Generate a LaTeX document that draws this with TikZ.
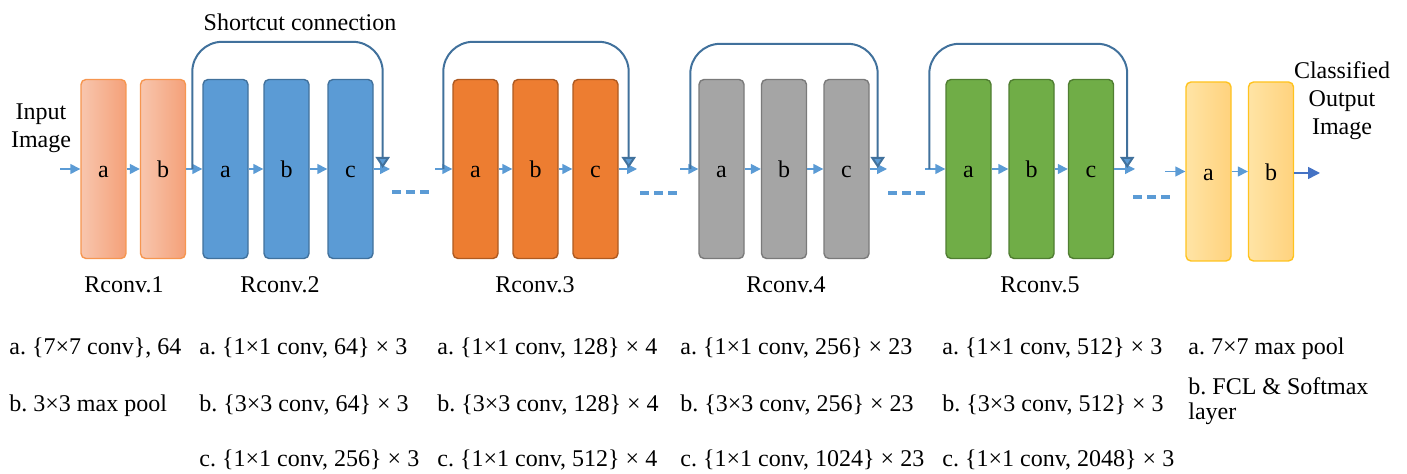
\documentclass[tikz,border=0pt]{standalone}
\usepackage{fontspec}
\setmainfont{Liberation Serif}
\usetikzlibrary{arrows.meta,calc}
\frenchspacing

\definecolor{stemLeft}{RGB}{248,198,174}
\definecolor{stemRight}{RGB}{244,160,120}
\definecolor{stemLine}{RGB}{246,150,80}
\definecolor{blueFill}{RGB}{91,155,213}
\definecolor{blueLine}{RGB}{65,113,156}
\definecolor{orangeFill}{RGB}{237,125,49}
\definecolor{orangeLine}{RGB}{174,90,33}
\definecolor{grayFill}{RGB}{165,165,165}
\definecolor{grayLine}{RGB}{122,122,122}
\definecolor{greenFill}{RGB}{112,173,71}
\definecolor{greenLine}{RGB}{80,126,50}
\definecolor{headLeft}{RGB}{255,228,165}
\definecolor{headRight}{RGB}{255,210,125}
\definecolor{headLine}{RGB}{255,195,30}
\definecolor{flowBlue}{RGB}{91,155,213}
\definecolor{skipBlue}{RGB}{65,113,156}
\definecolor{outBlue}{RGB}{68,114,196}

\begin{document}
\begin{tikzpicture}
[x=0.5pt,y=-0.5pt,
  every node/.style={inner sep=0pt,font=\fontsize{12}{14}\selectfont},%
  blockBase/.style={rectangle,rounded corners=2.5pt,minimum width=22.5pt,
    minimum height=89.5pt,line width=0.7pt,text height=9pt,text depth=0pt},
  stemBlock/.style={blockBase,draw=stemLine,left color=stemLeft,right color=stemRight},
  blueBlock/.style={blockBase,draw=blueLine,fill=blueFill},
  orangeBlock/.style={blockBase,draw=orangeLine,fill=orangeFill},
  grayBlock/.style={blockBase,draw=grayLine,fill=grayFill},
  greenBlock/.style={blockBase,draw=greenLine,fill=greenFill},
  headBlock/.style={blockBase,draw=headLine,left color=headLeft,right color=headRight},
  flowArrow/.style={-{Triangle[length=5pt,width=5pt]},flowBlue,line width=0.7pt},
  outArrow/.style={-{Triangle[length=6pt,width=6pt]},outBlue,line width=0.8pt},
  skipArrow/.style={-{Triangle[length=5.5pt,width=7pt,fill=flowBlue]},skipBlue,
    line width=1pt,rounded corners=15pt},
  gapDash/.style={flowBlue,line width=2pt,dash pattern=on 4.5pt off 2.5pt},
  specText/.style={anchor=base west}]
\useasboundingbox (0,0) rectangle (1407,474);

% conv blocks
\foreach \blockName/\xPos/\yPos/\blockStyle/\blockText in {
  c1a/103.5/169/stemBlock/a, c1b/163/169/stemBlock/b,
  c2a/225.5/169/blueBlock/a, c2b/286.5/169/blueBlock/b, c2c/350.5/169/blueBlock/c,
  c3a/475.5/169/orangeBlock/a, c3b/535.5/169/orangeBlock/b, c3c/595.5/169/orangeBlock/c,
  c4a/721.5/169/grayBlock/a, c4b/784/169/grayBlock/b, c4c/846.5/169/grayBlock/c,
  c5a/968.5/169/greenBlock/a, c5b/1031.5/169/greenBlock/b, c5c/1091/169/greenBlock/c,
  fca/1208.5/171.5/headBlock/a, fcb/1271/171.5/headBlock/b}
{
  \node[\blockStyle] (\blockName) at (\xPos,\yPos) {\blockText};
}

\coordinate (inStart) at (60,169);
\coordinate (c2out) at (390,169);
\coordinate (c3in) at (435,169);
\coordinate (c3out) at (637,169);
\coordinate (c4in) at (680,169);
\coordinate (c4out) at (887,169);
\coordinate (c5in) at (925,169);
\coordinate (c5out) at (1135,169);
\coordinate (fcIn) at (1165,171.5);
\coordinate (outEnd) at (1320,173);

\path
\foreach \startNode/\endNode in {
  inStart/c1a, c1a/c1b, c1b/c2a, c2a/c2b, c2b/c2c, c2c/c2out,
  c3in/c3a, c3a/c3b, c3b/c3c, c3c/c3out,
  c4in/c4a, c4a/c4b, c4b/c4c, c4c/c4out,
  c5in/c5a, c5a/c5b, c5b/c5c, c5c/c5out,
  fcIn/fca, fca/fcb}
{
  (\startNode) edge[flowArrow] (\endNode)
};
\draw[outArrow] (fcb.east |- outEnd) -- (outEnd);

% shortcut connections
\foreach \grp/\leftOff/\rightOff/\topOff in {2/-10/9/-37, 3/-9/10/-37, 4/-8/8/-35, 5/-16/13/-35}
{
  \draw[skipArrow] ($(c\grp a.west)+(\leftOff,0)$) |- ($(c\grp b.north)+(0,\topOff)$)
    -| ($(c\grp c.east)+(\rightOff,-1)$);
}

% dashes between stages
\foreach \dashX/\dashY in {392/192, 640/193, 888/193, 1133/197}
{
  \draw[gapDash] (\dashX,\dashY) -- ++(37,0);
}

\node (inLabel) [align=center] at (41,128) {Input\\Image};
\node (outLabel) [align=center] at (1342,101) {Classified\\Output\\Image};
\node (scLabel) at (300,22) {Shortcut connection};

\foreach \grp/\xPos in {1/124, 2/280, 3/535, 4/786, 5/1040}
{
  \node[anchor=base] (rcLabel\grp) at (\xPos,293) {Rconv.\grp};
}

% layer specs
\node[specText] (s1a) at (9,355) {a. \{7×7 conv\}, 64};
\node[specText] (s1b) at (9,412) {b. 3×3 max pool};
\node[specText] (s2a) at (199,355) {a. \{1×1 conv, 64\} × 3};
\node[specText] (s2b) at (199,412) {b. \{3×3 conv, 64\} × 3};
\node[specText] (s2c) at (199,467) {c. \{1×1 conv, 256\} × 3};
\node[specText] (s3a) at (437,355) {a. \{1×1 conv, 128\} × 4};
\node[specText] (s3b) at (437,412) {b. \{3×3 conv, 128\} × 4};
\node[specText] (s3c) at (437,467) {c. \{1×1 conv, 512\} × 4};
\node[specText] (s4a) at (680,355) {a. \{1×1 conv, 256\} × 23};
\node[specText] (s4b) at (680,412) {b. \{3×3 conv, 256\} × 23};
\node[specText] (s4c) at (680,467) {c. \{1×1 conv, 1024\} × 23};
\node[specText] (s5a) at (942,355) {a. \{1×1 conv, 512\} × 3};
\node[specText] (s5b) at (942,412) {b. \{3×3 conv, 512\} × 3};
\node[specText] (s5c) at (942,467) {c. \{1×1 conv, 2048\} × 3};
\node[specText] (s6a) at (1188,355) {a. 7×7 max pool};
\node[specText,align=left,font=\fontsize{12}{12.5}\selectfont] (s6b) at (1188,420)
  {b. FCL \& Softmax\\layer};
\end{tikzpicture}
\end{document}
